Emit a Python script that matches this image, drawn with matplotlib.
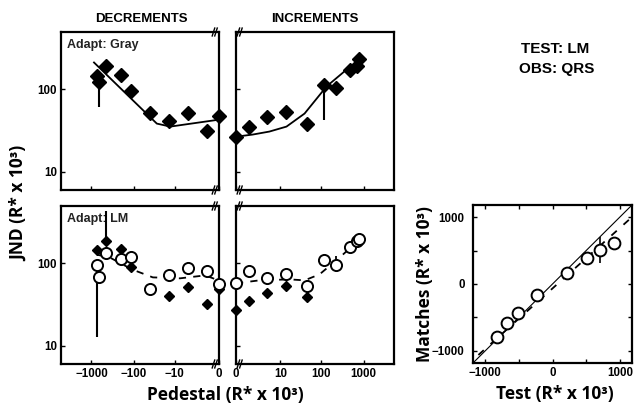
import numpy as np
import matplotlib
matplotlib.use("Agg")
import matplotlib.pyplot as plt
from matplotlib.ticker import NullLocator

# pedestal levels (R* x 10^3)
ped_dec = [-740, -660, -455, -200, -116, -41, -14, -4.4, -0.9, 0]
ped_inc = [0, 1, 4.5, 14, 45, 119, 218, 468, 684, 800]

# adapt: gray, JND thresholds
gray_dec = [144, 122, 191, 148, 95, 52, 41, 52, 31, 47]
gray_inc = [26.7, 35, 46, 54, 38.5, 115, 103, 175, 191, 232]
gray_fit_dec_x = [-870, -28, -13, 0]
gray_fit_dec_y = [213, 38.5, 35.4, 43]
gray_fit_inc_x = [0, 1.45, 5.1, 14.4, 40, 134, 354, 808]
gray_fit_inc_y = [26.7, 28.3, 30.8, 35.4, 51, 109, 166, 219]

# adapt: LM, open circles and filled diamonds
lm_circ_dec = [94.6, 69, 134, 112, 120, 48.6, 72.3, 87, 80.8, 56]
lm_circ_inc = [57.4, 80, 66, 73.7, 54, 109, 97, 160, 189, 200]
lm_diam_dec_x = [-740, -455, -200, -116, -14, -4.4, -0.9, 0]
lm_diam_dec = [145, 186, 150, 91, 40, 52.4, 32, 48.6]
lm_diam_inc_x = [0, 1, 4.5, 14, 45]
lm_diam_inc = [27.2, 34.8, 43.6, 52.9, 38.9]
lm_fit_dec_x = [-740, -366, -110, -35, -7.3, -1.1, 0]
lm_fit_dec_y = [128, 118, 84.7, 67.8, 66, 71.7, 62]
lm_fit_inc_x = [0, 2.57, 17.2, 40, 91, 271, 805]
lm_fit_inc_y = [57.4, 62.4, 64.1, 62.4, 73.7, 118, 195]

# asymmetric matches
test_vals = [-823, -675, -512, -230, 215, 512, 705, 912]
match_vals = [-792, -583, -433, -164, 164, 389, 508, 613]
match_fit_x = [-1100, 1180]
match_fit_y = [-1060, 1000]
unity = [-1180, 1180]

dec_ticks = [-1000, -100, -10, 0]
inc_ticks = [0, 10, 100, 1000]
dec_ticklabels = ["\u22121000", "\u2212100", "\u221210", "0"]
inc_ticklabels = ["0", "10", "100", "1000"]

TICK_FONT = dict(family="Liberation Sans", weight="bold", size=8.3)
LABEL_FONT = dict(family="Open Sans", weight="bold", size=12.5)


def fwd(x):
    x = np.asarray(x, dtype=float)
    return np.sign(x) * np.log10(1 + np.abs(x))


def inv(u):
    u = np.asarray(u, dtype=float)
    return np.sign(u) * (10 ** np.abs(u) - 1)


def style_log_panel(ax, side):
    ax.set_xscale("function", functions=(fwd, inv))
    ax.set_yscale("log")
    ax.set_ylim(6, 500)
    if side == "dec":
        ax.set_xlim(-5200, 0)
        ax.set_xticks(dec_ticks)
    else:
        ax.set_xlim(0, 5200)
        ax.set_xticks(inc_ticks)
    ax.set_yticks([10, 100])
    ax.xaxis.set_minor_locator(NullLocator())
    ax.yaxis.set_minor_locator(NullLocator())
    ax.tick_params(direction="in", length=3, width=1, pad=3)
    for s in ax.spines.values():
        s.set_linewidth(1.6)
    if side == "dec":
        ax.set_yticklabels(["10", "100"], fontdict=TICK_FONT)
    else:
        ax.set_yticklabels([])
    # break marks next to the shared zero
    x0 = 0.965 if side == "dec" else 0.015
    for y0 in (0, 1):
        for dx in (0, 0.016):
            ax.plot([x0 + dx - 0.008, x0 + dx + 0.008], [y0 - 0.025, y0 + 0.025],
                    transform=ax.transAxes, color="black", lw=1.0, clip_on=False)


fig = plt.figure(figsize=(6.39, 4.07), dpi=100)
W, H = 639, 407


def add_ax(x0, y0, w, h):
    return fig.add_axes([x0 / W, 1 - (y0 + h) / H, w / W, h / H])


ax_gd = add_ax(61, 32, 158, 158)
ax_gi = add_ax(236, 32, 158, 158)
ax_ld = add_ax(61, 206, 158, 158)
ax_li = add_ax(236, 206, 158, 158)
ax_m = add_ax(473, 205, 159, 158)

for ax, side in [(ax_gd, "dec"), (ax_gi, "inc"), (ax_ld, "dec"), (ax_li, "inc")]:
    style_log_panel(ax, side)

for ax in (ax_gd, ax_gi):
    ax.set_xticklabels([])
ax_ld.set_xticklabels(dec_ticklabels, fontdict=TICK_FONT)
ax_li.set_xticklabels(inc_ticklabels, fontdict=TICK_FONT)

dia = dict(marker="D", color="black", linestyle="none", clip_on=False, zorder=4)
circ = dict(marker="o", mfc="white", mec="black", mew=1.4, linestyle="none",
            clip_on=False, zorder=5)

# top row: adapt gray
ax_gd.plot(gray_fit_dec_x, gray_fit_dec_y, color="black", lw=1.3, zorder=3)
ax_gd.errorbar([ped_dec[1]], [gray_dec[1]], yerr=[[gray_dec[1] - 62], [0]],
               fmt="none", ecolor="black", elinewidth=1.5, zorder=3)
ax_gd.plot(ped_dec, gray_dec, markersize=7, **dia)
ax_gi.plot(gray_fit_inc_x, gray_fit_inc_y, color="black", lw=1.3, zorder=3)
ax_gi.errorbar([ped_inc[5]], [gray_inc[5]], yerr=[[gray_inc[5] - 43], [0]],
               fmt="none", ecolor="black", elinewidth=1.5, zorder=3)
ax_gi.plot(ped_inc, gray_inc, markersize=7, **dia)

# bottom row: adapt LM
ax_ld.plot(lm_fit_dec_x, lm_fit_dec_y, color="black", lw=1.3, ls=(0, (4, 4)), zorder=3)
ax_ld.errorbar([ped_dec[0]], [lm_circ_dec[0]], yerr=[[lm_circ_dec[0] - 12.8], [0]],
               fmt="none", ecolor="black", elinewidth=1.5, zorder=3)
ax_ld.errorbar([lm_diam_dec_x[1]], [lm_diam_dec[1]], yerr=[[0], [435 - lm_diam_dec[1]]],
               fmt="none", ecolor="black", elinewidth=1.5, zorder=3)
ax_ld.plot(lm_diam_dec_x, lm_diam_dec, markersize=4.8, **dia)
ax_ld.plot(ped_dec, lm_circ_dec, markersize=8, **circ)

ax_li.plot(lm_fit_inc_x, lm_fit_inc_y, color="black", lw=1.3, ls=(0, (4, 4)), zorder=3)
ax_li.errorbar(ped_inc[5:], lm_circ_inc[5:], yerr=[[0, 0, 0, 0, 0], [14, 25, 18, 22, 18]],
               fmt="none", ecolor="black", elinewidth=1.3, zorder=3)
ax_li.plot(lm_diam_inc_x, lm_diam_inc, markersize=4.8, **dia)
ax_li.plot(ped_inc, lm_circ_inc, markersize=8, **circ)

ax_gd.text(0.04, 0.92, "Adapt: Gray", transform=ax_gd.transAxes, ha="left", va="center",
           family="Liberation Sans", weight="bold", size=9, color="#222222")
ax_ld.text(0.04, 0.92, "Adapt: LM", transform=ax_ld.transAxes, ha="left", va="center",
           family="Liberation Sans", weight="bold", size=9, color="#222222", zorder=2)

# match panel
ax_m.plot(unity, unity, color="black", lw=0.8, zorder=2)
ax_m.plot(match_fit_x, match_fit_y, color="black", lw=1.3, ls=(0, (4, 5)), zorder=2)
ax_m.errorbar([test_vals[4], test_vals[6], test_vals[7]],
              [match_vals[4], match_vals[6], match_vals[7]],
              yerr=[60, 200, 90], fmt="none", ecolor="black", elinewidth=1.2, zorder=3)
ax_m.plot(test_vals, match_vals, markersize=8.5, **circ)
ax_m.set_xlim(-1180, 1180)
ax_m.set_ylim(-1180, 1180)
ax_m.set_xticks([-1000, -500, 0, 500, 1000])
ax_m.set_yticks([-1000, -500, 0, 500, 1000])
ax_m.set_xticklabels(["\u22121000", "", "0", "", "1000"], fontdict=TICK_FONT)
ax_m.set_yticklabels(["\u22121000", "", "0", "", "1000"], fontdict=TICK_FONT)
ax_m.tick_params(direction="in", length=3, width=1, pad=3, top=True, right=True)
ax_m.tick_params(axis="y", pad=6)
for s in ax_m.spines.values():
    s.set_linewidth(1.6)

# headings and axis titles
fig.text(141 / W, 1 - 19 / H, "DECREMENTS", ha="center", va="center",
         family="Liberation Sans", weight="bold", size=9.5)
fig.text(315 / W, 1 - 19 / H, "INCREMENTS", ha="center", va="center",
         family="Liberation Sans", weight="bold", size=9.5)
fig.text(555 / W, 1 - 49 / H, "TEST: LM", ha="center", va="center",
         family="Liberation Sans", weight="bold", size=11)
fig.text(557 / W, 1 - 69 / H, "OBS: QRS", ha="center", va="center",
         family="Liberation Sans", weight="bold", size=11)

fig.text(19 / W, 1 - 203 / H, "JND (R* x 10\u00b3)", rotation=90, ha="center", va="center",
         **LABEL_FONT)
fig.text(225 / W, 1 - 395 / H, "Pedestal (R* x 10\u00b3)", ha="center", va="center",
         **LABEL_FONT)
fig.text(425 / W, 1 - 284 / H, "Matches (R* x 10\u00b3)", rotation=90, ha="center",
         va="center", **LABEL_FONT)
fig.text(555 / W, 1 - 394 / H, "Test (R* x 10\u00b3)", ha="center", va="center",
         **LABEL_FONT)

fig.savefig("out.png", dpi=100)
